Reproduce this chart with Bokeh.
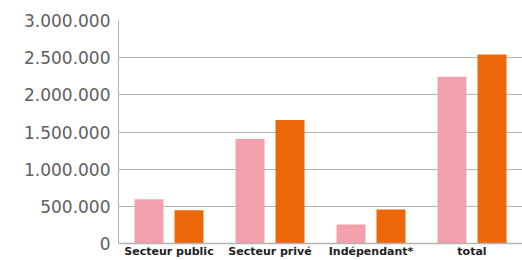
from bokeh.plotting import figure
from bokeh.models import FactorRange, Range1d, ColumnDataSource, CustomJSTickFormatter, FixedTicker
from bokeh.transform import dodge
from bokeh.embed import file_html
from bokeh.resources import INLINE

categories = ["Secteur public", "Secteur privé", "Indépendant*", "total"]
series_a = [595000, 1405000, 257000, 2243000]
series_b = [446000, 1662000, 459000, 2541000]
y_ticks = [0, 500000, 1000000, 1500000, 2000000, 2500000, 3000000]

pink = "#F3A0AD"
orange = "#EC660A"
grey = "#B3B3B3"

src = ColumnDataSource(dict(cat=categories, a=series_a, b=series_b))

p = figure(x_range=FactorRange(*categories, range_padding=0), y_range=Range1d(0, 3000000),
           width=522, height=260, output_backend="svg", toolbar_location=None,
           min_border_left=118, min_border_right=0, min_border_top=20, min_border_bottom=16)

p.vbar(x=dodge("cat", -0.198, range=p.x_range), top="a", width=0.287, source=src,
       fill_color=pink, line_color=None)
p.vbar(x=dodge("cat", 0.198, range=p.x_range), top="b", width=0.287, source=src,
       fill_color=orange, line_color=None)

p.outline_line_color = None
p.xgrid.grid_line_color = None
p.ygrid.grid_line_color = grey
p.ygrid.grid_line_width = 1

p.yaxis.ticker = FixedTicker(ticks=y_ticks)
p.yaxis.formatter = CustomJSTickFormatter(code="return tick.toFixed(0).replace(/\\B(?=(\\d{3})+(?!\\d))/g, '.');")
p.yaxis.axis_line_color = grey
p.yaxis.major_tick_line_color = None
p.yaxis.major_tick_out = 0
p.yaxis.major_tick_in = 0
p.yaxis.minor_tick_line_color = None
p.yaxis.major_label_standoff = 8
p.yaxis.major_label_text_font = "DejaVu Sans"
p.yaxis.major_label_text_font_size = "17px"
p.yaxis.major_label_text_color = "#606060"

p.xaxis.axis_line_color = grey
p.xaxis.axis_line_width = 1.5
p.xaxis.major_tick_line_color = None
p.xaxis.major_tick_out = 0
p.xaxis.major_tick_in = 0
p.xaxis.minor_tick_line_color = None
p.xaxis.major_label_standoff = 1
p.xaxis.major_label_text_font = "DejaVu Sans"
p.xaxis.major_label_text_font_style = "bold"
p.xaxis.major_label_text_font_size = "11px"
p.xaxis.major_label_text_color = "#222222"

open("out.html", "w").write(file_html(p, INLINE))
